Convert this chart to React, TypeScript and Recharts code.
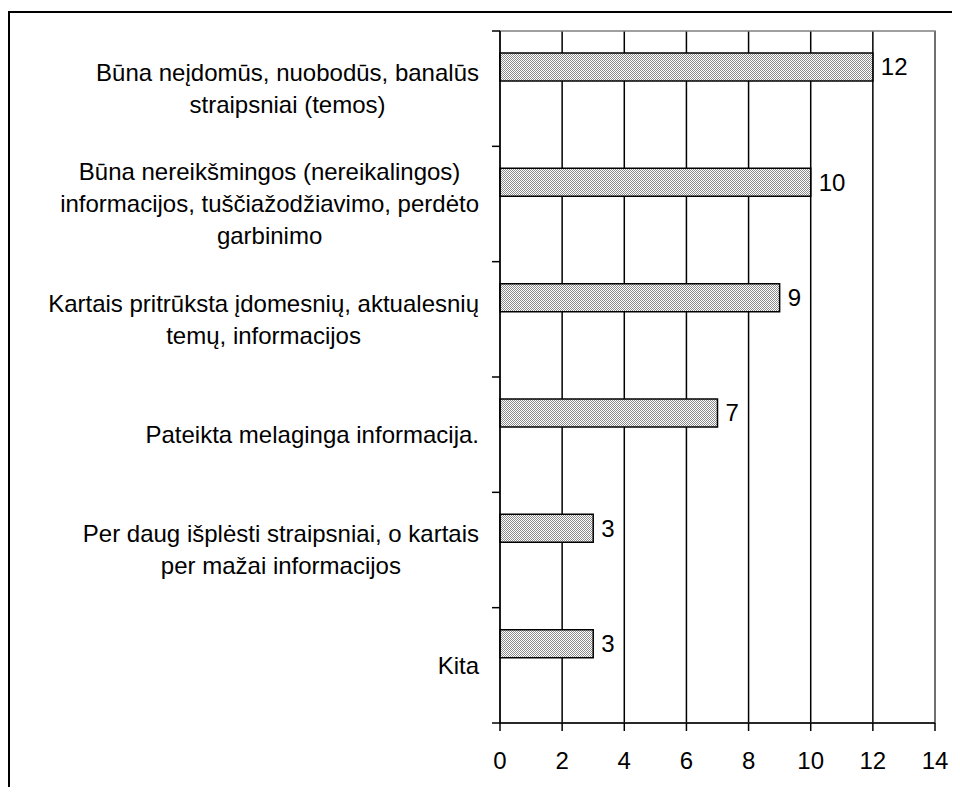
import React from "react"
import {
  BarChart, Bar, XAxis, YAxis, CartesianGrid, ReferenceArea, LabelList, Rectangle,
} from "recharts"

const categories = [
  "Būna neįdomūs, nuobodūs, banalūs\nstraipsniai (temos)",
  "Būna nereikšmingos (nereikalingos)\ninformacijos, tuščiažodžiavimo, perdėto\ngarbinimo",
  "Kartais pritrūksta įdomesnių, aktualesnių\ntemų, informacijos",
  "Pateikta melaginga informacija.",
  "Per daug išplėsti straipsniai, o kartais\nper mažai informacijos",
  "Kita",
]
const counts = [12, 10, 9, 7, 3, 3]
const xTicks = [0, 2, 4, 6, 8, 10, 12, 14]

const FONT = "'Liberation Sans', Arial, sans-serif"
const FONT_SIZE = 24
const LINE_H = 32
const CHART_W = 944
const CHART_H = 779
const MARGIN = { top: 23, right: 17, bottom: 0, left: 0 }
const X_AXIS_H = 64
const PLOT_H = CHART_H - MARGIN.top - MARGIN.bottom - X_AXIS_H
const BAND = PLOT_H / categories.length
const BAR_SHIFT = 22

const data = categories.map((name, i) => ({ name, value: counts[i] }))

let ctx: CanvasRenderingContext2D | null = null
function textWidth(s: string): number {
  if (!ctx) {
    ctx = document.createElement("canvas").getContext("2d")
    if (ctx) ctx.font = `${FONT_SIZE}px ${FONT}`
  }
  return ctx ? ctx.measureText(s).width : s.length * FONT_SIZE * 0.5
}

function CategoryTick(props: any) {
  const { x, y, payload, index } = props
  const lines = String(payload.value).split("\n")
  const blockW = Math.max(...lines.map(textWidth))
  const cx = x - 13 - blockW / 2
  const startY = y - ((lines.length - 1) * LINE_H) / 2
  const half = BAND / 2
  return (
    <g>
      <line x1={x} x2={x + 8} y1={y - half} y2={y - half} stroke="#000" strokeWidth={1.5} />
      {index === categories.length - 1 && (
        <line x1={x} x2={x + 8} y1={y + half} y2={y + half} stroke="#000" strokeWidth={1.5} />
      )}
      <text textAnchor="middle" fontSize={FONT_SIZE} fontFamily={FONT} fill="#000">
        {lines.map((l, i) => (
          <tspan key={i} x={cx} y={startY + i * LINE_H} dy="0.35em">{l}</tspan>
        ))}
      </text>
    </g>
  )
}

function ShiftedBar(p: any) {
  return (
    <Rectangle
      x={p.x}
      y={p.y - BAR_SHIFT}
      width={p.width}
      height={p.height}
      fill="url(#dither)"
      stroke="#000"
      strokeWidth={1.5}
    />
  )
}

function ValueLabel(p: any) {
  const { x, y, width, height, value } = p
  return (
    <text
      x={x + width + 8}
      y={y + height / 2 - BAR_SHIFT}
      dy="0.35em"
      fontSize={FONT_SIZE}
      fontFamily={FONT}
      fill="#000"
    >
      {value}
    </text>
  )
}

export default function App() {
  return (
    <div style={{ position: "relative", width: CHART_W, height: CHART_H, fontFamily: FONT }}>
      <svg width={0} height={0} style={{ position: "absolute" }}>
        <defs>
          <pattern id="dither" width="2" height="2" patternUnits="userSpaceOnUse">
            <rect width="2" height="2" fill="#ffffff" />
            <rect width="1" height="1" fill="#8c8c8c" />
            <rect x="1" y="1" width="1" height="1" fill="#8c8c8c" />
          </pattern>
        </defs>
      </svg>
      <div
        style={{
          position: "absolute", left: 0, top: 3, width: CHART_W, height: CHART_H - 3,
          borderTop: "2px solid #000", borderLeft: "2px solid #000", boxSizing: "border-box",
        }}
      />
      <div style={{ position: "absolute", left: 0, top: 0 }}>
        <BarChart
          width={CHART_W}
          height={CHART_H}
          data={data}
          layout="vertical"
          margin={MARGIN}
          barSize={28}
        >
          <CartesianGrid horizontal={false} stroke="#000" strokeWidth={1.5} />
          <ReferenceArea x1={0} x2={14} fill="none" stroke="#808080" strokeWidth={1.5} ifOverflow="visible" />
          <XAxis
            type="number"
            domain={[0, 14]}
            ticks={xTicks}
            interval={0}
            height={X_AXIS_H}
            tickSize={8}
            tickMargin={21}
            axisLine={{ stroke: "#000", strokeWidth: 1.5 }}
            tickLine={{ stroke: "#000", strokeWidth: 1.5 }}
            tick={{ fill: "#000", fontSize: FONT_SIZE, fontFamily: FONT }}
          />
          <YAxis
            type="category"
            dataKey="name"
            width={492}
            tickSize={8}
            tickMargin={0}
            interval={0}
            axisLine={{ stroke: "#000", strokeWidth: 1.5 }}
            tickLine={false}
            tick={(p: any) => <CategoryTick {...p} />}
          />
          <Bar dataKey="value" shape={ShiftedBar} isAnimationActive={false}>
            <LabelList dataKey="value" content={ValueLabel} />
          </Bar>
        </BarChart>
      </div>
    </div>
  )
}
